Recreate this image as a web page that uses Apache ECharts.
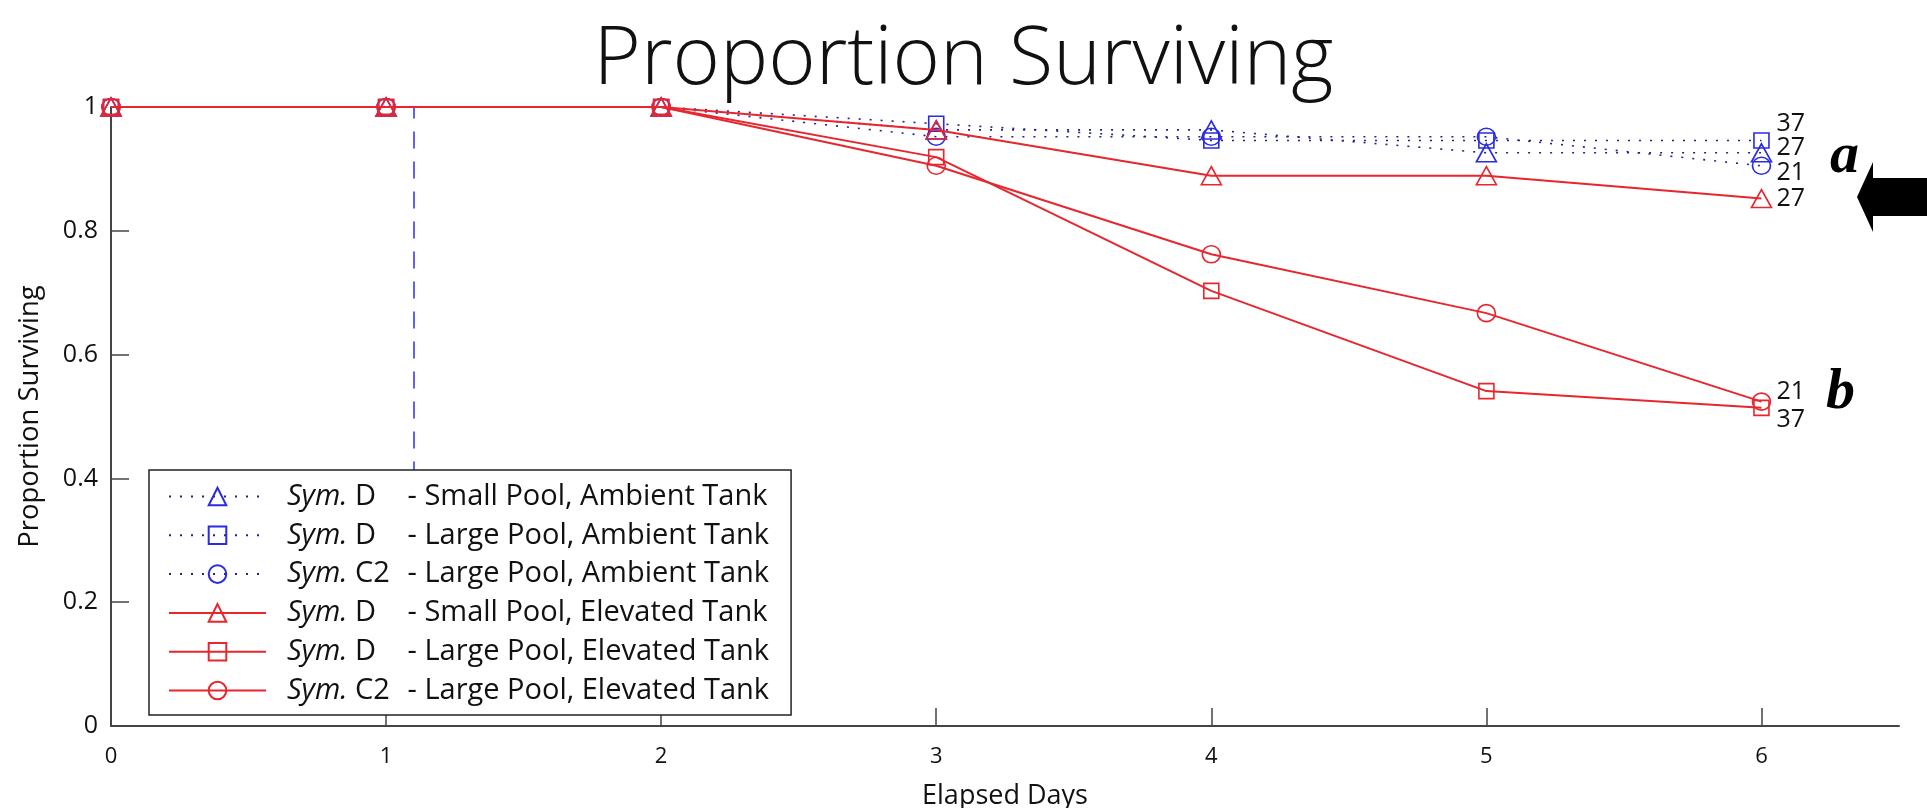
<!DOCTYPE html>
<html>
<head>
<meta charset="utf-8">
<style>
  html, body { margin: 0; padding: 0; background: #fff; }
  #chart { width: 1927px; height: 808px; }
</style>
<script src="https://cdn.jsdelivr.net/npm/echarts@6/dist/echarts.min.js"></script>
</head>
<body>
<div id="chart"></div>
<script>
// Elapsed days and axis ticks
const days = [0, 1, 2, 3, 4, 5, 6];
const xTicks = [0, 1, 2, 3, 4, 5, 6];
const yTicks = [0, 0.2, 0.4, 0.6, 0.8, 1];

// Proportion surviving, one array per group
const dSmallAmbient = [1, 1, 1, 0.963, 0.963, 0.926, 0.926];
const dLargeAmbient = [1, 1, 1, 0.973, 0.946, 0.946, 0.946];
const c2LargeAmbient = [1, 1, 1, 0.952, 0.952, 0.952, 0.905];
const dSmallElevated = [1, 1, 1, 0.963, 0.889, 0.889, 0.852];
const dLargeElevated = [1, 1, 1, 0.919, 0.703, 0.541, 0.514];
const c2LargeElevated = [1, 1, 1, 0.905, 0.762, 0.667, 0.524];

// Legend parts and sample sizes written at the line ends
const symbionts = ["D", "D", "C2", "D", "D", "C2"];
const groups = [
  "Small Pool, Ambient Tank",
  "Large Pool, Ambient Tank",
  "Large Pool, Ambient Tank",
  "Small Pool, Elevated Tank",
  "Large Pool, Elevated Tank",
  "Large Pool, Elevated Tank",
];
const sampleSizes = [27, 37, 21, 27, 37, 21];

// Dashed marker line: day the heat started, drawn between two proportions
const heatDay = 1.1;
const heatRange = [0.4, 1];

const BLUE = "#2b2be2";
const BLUE_LINE = "#24247e";
const RED = "#e8262e";
const FONT = '"Open Sans", sans-serif';

// Build one series
function makeSeries(i, values, ambient, symbol, size, labelDy) {
  let s = {
    name: "s" + i,
    type: "line",
    data: values.map((v, k) => [days[k], v]),
    symbol: symbol,
    symbolSize: size,
    showAllSymbol: true,
    animation: false,
    z: ambient ? 2 : 3,
    itemStyle: {
      color: "rgba(255,255,255,0)",
      borderColor: ambient ? BLUE : RED,
      borderWidth: 1.6,
    },
    lineStyle: ambient
      ? { color: BLUE_LINE, width: 1.6, type: [2, 9] }
      : { color: RED, width: 2, type: "solid" },
    endLabel: {
      show: true,
      formatter: String(sampleSizes[i]),
      fontFamily: FONT,
      fontSize: 25,
      color: "#111",
      distance: 15,
      offset: [0, labelDy],
    },
    emphasis: { disabled: true },
  };
  return s;
}

let series = [
  makeSeries(0, dSmallAmbient, true, "triangle", [20, 18], -5),
  makeSeries(1, dLargeAmbient, true, "rect", 15, -17),
  makeSeries(2, c2LargeAmbient, true, "circle", [18, 17], 7),
  makeSeries(3, dSmallElevated, false, "triangle", [20, 18], 0),
  makeSeries(4, dLargeElevated, false, "rect", 15, 12),
  makeSeries(5, c2LargeElevated, false, "circle", [18, 17], -10),
];

series[0].markLine = {
  silent: true,
  z: 1,
  symbol: ["none", "none"],
  label: { show: false },
  lineStyle: { color: "#3a3af2", width: 1.6, type: [17, 13] },
  data: [[{ coord: [heatDay, heatRange[0]] }, { coord: [heatDay, heatRange[1]] }]],
};

let myChart = echarts.init(document.getElementById("chart"));

let option = {
  backgroundColor: "#fff",
  title: {
    text: "Proportion Surviving",
    left: "center",
    top: 15,
    textStyle: {
      fontFamily: FONT,
      fontWeight: 300,
      fontSize: 81,
      color: "#111",
    },
  },
  grid: { left: 111, right: 28, top: 107, bottom: 82, outerBoundsMode: "none" },
  legend: {
    orient: "vertical",
    left: 149,
    top: 470,
    z: 10,
    padding: [12, 22, 10, 19],
    itemWidth: 97,
    itemHeight: 22,
    itemGap: 9.8,
    backgroundColor: "#fff",
    borderColor: "#222",
    borderWidth: 1.5,
    data: series.map((s) => s.name),
    formatter: function (name) {
      let i = Number(name.slice(1));
      return "{i|Sym.}{s| " + symbionts[i] + "}{t|- " + groups[i] + "}";
    },
    textStyle: {
      padding: [0, 0, 0, 16],
      color: "#111",
      rich: {
        i: { fontFamily: FONT, fontSize: 29, fontStyle: "italic", color: "#111" },
        s: { fontFamily: FONT, fontSize: 29, width: 60, color: "#111" },
        t: { fontFamily: FONT, fontSize: 29, color: "#111" },
      },
    },
  },
  xAxis: {
    type: "value",
    min: 0,
    max: 6.5,
    name: "Elapsed Days",
    nameLocation: "middle",
    nameGap: 57,
    nameTextStyle: { fontFamily: FONT, fontSize: 27, color: "#111" },
    axisLine: { lineStyle: { color: "#444", width: 2 } },
    axisTick: {
      inside: true,
      length: 18,
      customValues: xTicks,
      lineStyle: { color: "#444", width: 1.5 },
    },
    axisLabel: {
      customValues: xTicks,
      fontFamily: FONT,
      fontSize: 22,
      color: "#111",
      margin: 20,
    },
    splitLine: { show: false },
  },
  yAxis: {
    type: "value",
    min: 0,
    max: 1,
    name: "Proportion Surviving",
    nameLocation: "middle",
    nameGap: 67,
    nameTextStyle: { fontFamily: FONT, fontSize: 27.5, color: "#111" },
    axisLine: { show: true, lineStyle: { color: "#444", width: 2 } },
    axisTick: {
      show: true,
      inside: true,
      length: 18,
      customValues: yTicks,
      lineStyle: { color: "#444", width: 1.5 },
    },
    axisLabel: {
      customValues: yTicks,
      fontFamily: FONT,
      fontSize: 25,
      color: "#111",
      margin: 13,
    },
    splitLine: { show: false },
  },
  graphic: [
    {
      type: "text",
      left: 1830,
      top: 128,
      style: { text: "a", font: 'bold italic 58px "Liberation Serif"', fill: "#000" },
    },
    {
      type: "text",
      left: 1826,
      top: 364,
      style: { text: "b", font: 'bold italic 58px "Liberation Serif"', fill: "#000" },
    },
    {
      type: "polygon",
      shape: {
        points: [
          [1857, 197],
          [1873, 162],
          [1873, 178],
          [1927, 178],
          [1927, 216],
          [1873, 216],
          [1873, 232],
        ],
      },
      style: { fill: "#000" },
    },
  ],
  series: series,
};

myChart.setOption(option);
</script>
</body>
</html>
